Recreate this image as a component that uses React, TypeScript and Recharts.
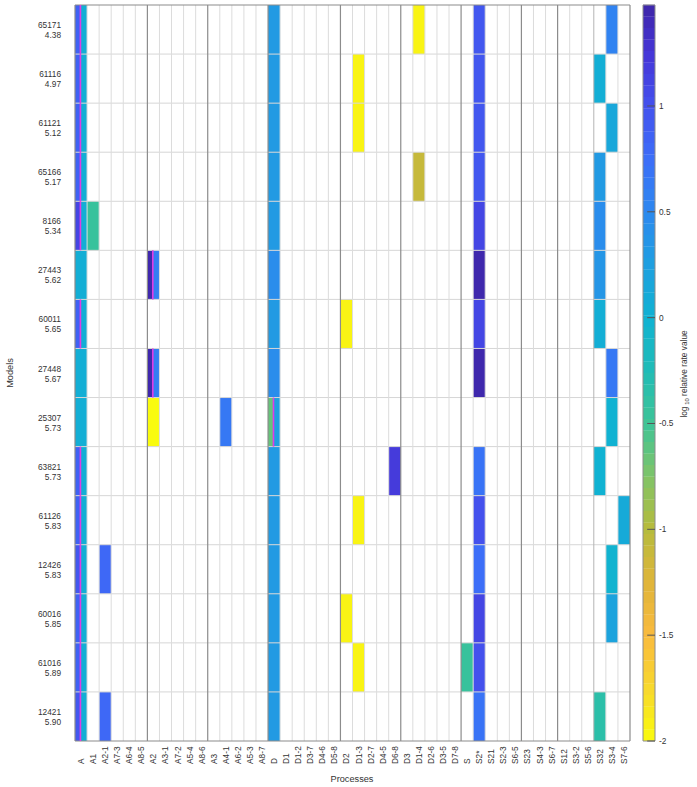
import React from 'react';
import { ComposedChart, XAxis, YAxis, ReferenceArea, ReferenceLine } from 'recharts';

const models = ['65171', '61116', '61121', '65166', '8166', '27443', '60011', '27448', '25307', '63821', '61126', '12426', '60016', '61016', '12421'];
const scores = ['4.38', '4.97', '5.12', '5.17', '5.34', '5.62', '5.65', '5.67', '5.73', '5.73', '5.83', '5.83', '5.85', '5.89', '5.90'];
const processes = ['A', 'A1', 'A2-1', 'A7-3', 'A6-4', 'A8-5', 'A2', 'A3-1', 'A7-2', 'A5-4', 'A8-6', 'A3', 'A4-1', 'A6-2', 'A5-3', 'A8-7', 'D', 'D1', 'D1-2', 'D3-7', 'D4-6', 'D5-8', 'D2', 'D1-3', 'D2-7', 'D4-5', 'D6-8', 'D3', 'D1-4', 'D2-6', 'D3-5', 'D7-8', 'S', 'S2*', 'S21', 'S2-3', 'S6-5', 'S23', 'S4-3', 'S6-7', 'S12', 'S3-2', 'S5-6', 'S32', 'S3-4', 'S7-6'];
const groupBreaks = ['A2', 'A3', 'D', 'D2', 'D3', 'S', 'S23', 'S12'];
const minorBreaks = ['S32'];
const colorTicks = [-2, -1.5, -1, -0.5, 0, 0.5, 1];
const colorMin = -2;
const colorMax = 1.477;
const colorBands = 64;

// values per process column (one entry per model, null = empty)
const A = [0.05, 0.05, 0.05, 0.05, 0.05, 0.05, 0.05, 0.05, 0.05, 0.05, 0.05, 0.05, 0.05, 0.05, 0.05];
const A_left = [0.85, 0.85, 0.85, 0.85, 1.1, null, 0.85, null, null, 0.85, 0.85, 0.95, 0.85, 0.85, 0.95];
const A1 = [null, null, null, null, -0.45, null, null, null, null, null, null, null, null, null, null];
const A2_1 = [null, null, null, null, null, null, null, null, null, null, null, 0.8, null, null, 0.8];
const A2 = [null, null, null, null, null, 0.6, null, 0.6, -2, null, null, null, null, null, null];
const A2_left = [null, null, null, null, null, 1.45, null, 1.45, null, null, null, null, null, null, null];
const A4_1 = [null, null, null, null, null, null, null, null, 0.65, null, null, null, null, null, null];
const D = [0.3, 0.3, 0.3, 0.3, 0.3, 0.45, 0.3, 0.45, 0.25, 0.3, 0.3, 0.3, 0.3, 0.3, 0.3];
const D_left = [null, null, null, null, null, null, null, null, -0.65, null, null, null, null, null, null];
const D2 = [null, null, null, null, null, null, -1.95, null, null, null, null, null, -1.95, null, null];
const D1_3 = [null, -1.95, -1.95, null, null, null, null, null, null, null, -1.95, null, null, -1.95, null];
const D6_8 = [null, null, null, null, null, null, null, null, null, 1.2, null, null, null, null, null];
const D1_4 = [-1.95, null, null, -1.1, null, null, null, null, null, null, null, null, null, null, null];
const S = [null, null, null, null, null, null, null, null, null, null, null, null, null, -0.45, null];
const S2star = [0.95, 0.95, 0.95, 0.95, 1.1, 1.45, 1.1, 1.45, null, 0.7, 1.0, 0.75, 1.1, 1.0, 0.7];
const S32 = [null, 0.05, null, 0.3, 0.45, 0.35, 0.05, null, null, 0.0, null, null, null, null, -0.35];
const S3_4 = [0.55, null, 0.15, null, null, null, null, 0.65, 0.0, null, null, -0.02, 0.2, null, null];
const S7_6 = [null, null, null, null, null, null, null, null, null, null, 0.1, null, null, null, null];

const columns: [string, (number | null)[]][] = [
  ['A', A], ['A1', A1], ['A2-1', A2_1], ['A2', A2], ['A4-1', A4_1], ['D', D], ['D2', D2],
  ['D1-3', D1_3], ['D6-8', D6_8], ['D1-4', D1_4], ['S', S], ['S2*', S2star], ['S32', S32],
  ['S3-4', S3_4], ['S7-6', S7_6],
];
const splitColumns: [string, (number | null)[]][] = [['A', A_left], ['A2', A2_left], ['D', D_left]];

const cmapStops: [number, string][] = [
  [1.477, '#3e26a8'], [1.25, '#4535d6'], [1.0, '#4451ed'], [0.75, '#3c6ef8'], [0.5, '#2d88ef'],
  [0.25, '#1f9fe0'], [0, '#10b2d2'], [-0.25, '#20bcb6'], [-0.5, '#3ec496'], [-0.75, '#80c468'],
  [-1, '#b6bb3c'], [-1.25, '#dfb53a'], [-1.5, '#f9ba3e'], [-1.75, '#f8d82e'], [-2, '#f9fb0e'],
];

function hexToRgb(h: string) {
  return [parseInt(h.slice(1, 3), 16), parseInt(h.slice(3, 5), 16), parseInt(h.slice(5, 7), 16)];
}
function cmap(v: number) {
  if (v >= cmapStops[0][0]) return cmapStops[0][1];
  for (let i = 0; i < cmapStops.length - 1; i++) {
    const [v0, c0] = cmapStops[i];
    const [v1, c1] = cmapStops[i + 1];
    if (v <= v0 && v >= v1) {
      const t = (v0 - v) / (v0 - v1);
      const a = hexToRgb(c0), b = hexToRgb(c1);
      const r = a.map((x, k) => Math.round(x + (b[k] - x) * t));
      return `rgb(${r[0]},${r[1]},${r[2]})`;
    }
  }
  return cmapStops[cmapStops.length - 1][1];
}

const SPLIT = 0.45;
const FONT = '"Liberation Sans", Arial, Helvetica, sans-serif';
const TXT = '#333333';

const xTicks = processes.map((_, i) => i + 0.5);
const yTicks = models.map((_, i) => i + 0.5);

const XTick = (props: any) => {
  const { x, y, payload } = props;
  const label = processes[Math.floor(payload.value)];
  return (
    <text x={x} y={y} transform={`rotate(-90 ${x} ${y})`} textAnchor="start" dominantBaseline="central" fontSize={8.3} fill={TXT} fontFamily={FONT}>
      {label}
    </text>
  );
};

const YTick = (props: any) => {
  const { x, y, payload } = props;
  const i = Math.floor(payload.value);
  return (
    <g>
      <text x={x} y={y - 1.5} textAnchor="end" fontSize={8.3} fill={TXT} fontFamily={FONT}>{models[i]}</text>
      <text x={x} y={y + 8.5} textAnchor="end" fontSize={8.3} fill={TXT} fontFamily={FONT}>{scores[i]}</text>
    </g>
  );
};

const CTick = (props: any) => {
  const { x, y, payload } = props;
  return (
    <text x={x} y={y} textAnchor="start" dominantBaseline="central" fontSize={8.3} fill={TXT} fontFamily={FONT}>
      {String(payload.value)}
    </text>
  );
};

function buildCells() {
  const els: React.ReactNode[] = [];
  const magenta: React.ReactNode[] = [];
  columns.forEach(([name, vals]) => {
    const c = processes.indexOf(name);
    const split = splitColumns.find((s) => s[0] === name);
    vals.forEach((v, r) => {
      const lv = split ? split[1][r] : null;
      if (lv != null) {
        els.push(<ReferenceArea key={`l-${name}-${r}`} x1={c} x2={c + SPLIT} y1={r} y2={r + 1} fill={cmap(lv)} fillOpacity={1} stroke="none" />);
        if (v != null) {
          els.push(<ReferenceArea key={`r-${name}-${r}`} x1={c + SPLIT} x2={c + 1} y1={r} y2={r + 1} fill={cmap(v)} fillOpacity={1} stroke="none" />);
        }
        magenta.push(
          <ReferenceLine key={`m-${name}-${r}`} segment={[{ x: c + SPLIT, y: r }, { x: c + SPLIT, y: r + 1 }]} stroke="#e03ce6" strokeWidth={1.6} />
        );
      } else if (v != null) {
        els.push(<ReferenceArea key={`f-${name}-${r}`} x1={c} x2={c + 1} y1={r} y2={r + 1} fill={cmap(v)} fillOpacity={1} stroke="none" />);
      }
    });
  });
  return { els, magenta };
}

function buildGrid() {
  const lines: React.ReactNode[] = [];
  for (let r = 1; r < models.length; r++) {
    lines.push(<ReferenceLine key={`h${r}`} y={r} stroke="#d6d6d6" strokeWidth={1} />);
  }
  for (let c = 1; c < processes.length; c++) {
    const isMajor = groupBreaks.includes(processes[c]);
    const isMinor = minorBreaks.includes(processes[c]);
    if (!isMajor && !isMinor) lines.push(<ReferenceLine key={`v${c}`} x={c} stroke="#dcdcdc" strokeWidth={1} />);
  }
  processes.forEach((p, c) => {
    if (minorBreaks.includes(p)) lines.push(<ReferenceLine key={`mn${c}`} x={c} stroke="#b4b4b4" strokeWidth={1} />);
  });
  processes.forEach((p, c) => {
    if (groupBreaks.includes(p)) lines.push(<ReferenceLine key={`mj${c}`} x={c} stroke="#8c8c8c" strokeWidth={1.2} />);
  });
  lines.push(<ReferenceLine key="b0" x={0} stroke="#8c8c8c" strokeWidth={1.2} />);
  lines.push(<ReferenceLine key="b1" x={processes.length} stroke="#8c8c8c" strokeWidth={1.2} />);
  lines.push(<ReferenceLine key="b2" y={0} stroke="#8c8c8c" strokeWidth={1.2} />);
  lines.push(<ReferenceLine key="b3" y={models.length} stroke="#8c8c8c" strokeWidth={1.2} />);
  return lines;
}

function buildColorbar() {
  const bands: React.ReactNode[] = [];
  const step = (colorMax - colorMin) / colorBands;
  for (let i = 0; i < colorBands; i++) {
    const lo = colorMin + i * step;
    const hi = lo + step;
    bands.push(<ReferenceArea key={`cb${i}`} x1={0} x2={1} y1={lo} y2={hi + step * 0.02} fill={cmap((lo + hi) / 2)} fillOpacity={1} stroke="none" ifOverflow="extendDomain" />);
  }
  return bands;
}

export default function App() {
  const { els, magenta } = buildCells();
  const grid = buildGrid();
  const bands = buildColorbar();
  return (
    <div style={{ position: 'absolute', left: 0, top: 0, width: 697, height: 787, background: '#fff', fontFamily: FONT }}>
      <div style={{ position: 'absolute', left: 0, top: 0 }}>
        <ComposedChart width={636} height={787} margin={{ top: 5, right: 6, bottom: 0, left: 0 }}>
          <XAxis type="number" dataKey="x" domain={[0, processes.length]} ticks={xTicks} interval={0} height={46} tickSize={0} tickMargin={23} axisLine={false} tickLine={false} tick={XTick} allowDataOverflow />
          <YAxis type="number" dataKey="y" domain={[0, models.length]} reversed ticks={yTicks} interval={0} width={75} tickSize={0} tickMargin={14} axisLine={false} tickLine={false} tick={YTick} allowDataOverflow />
          {els}
          {grid}
          {magenta}
        </ComposedChart>
      </div>
      <div style={{ position: 'absolute', left: 636, top: 0 }}>
        <ComposedChart width={61} height={787} margin={{ top: 5, right: 0, bottom: 0, left: 7 }}>
          <XAxis type="number" dataKey="x" domain={[0, 1]} height={46} tick={false} axisLine={false} tickLine={false} allowDataOverflow />
          <YAxis type="number" dataKey="y" orientation="right" domain={[colorMin, colorMax]} ticks={colorTicks} interval={0} width={42} tickSize={0} tickMargin={4} axisLine={false} tickLine={false} tick={CTick} allowDataOverflow />
          {bands}
          <ReferenceArea x1={0} x2={1} y1={colorMin} y2={colorMax} fill="none" fillOpacity={0} stroke="#8c8c8c" strokeWidth={1} />
          {colorTicks.map((t) => (
            <ReferenceLine key={t} segment={[{ x: 0.35, y: t }, { x: 1, y: t }]} stroke="#555" strokeWidth={1} />
          ))}
        </ComposedChart>
      </div>
      <svg width={697} height={787} style={{ position: 'absolute', left: 0, top: 0, pointerEvents: 'none' }}>
        <text x={10} y={373} transform="rotate(-90 10 373)" textAnchor="middle" dominantBaseline="central" fontSize={9.2} fill={TXT} fontFamily={FONT}>Models</text>
        <text x={352} y={779} textAnchor="middle" dominantBaseline="central" fontSize={9.2} fill={TXT} fontFamily={FONT}>Processes</text>
        <text x={684} y={374} transform="rotate(-90 684 374)" textAnchor="middle" dominantBaseline="central" fontSize={8.3} fill={TXT} fontFamily={FONT}>
          log<tspan dy={3} fontSize={6}> 10</tspan><tspan dy={-3}> relative rate value</tspan>
        </text>
      </svg>
    </div>
  );
}
